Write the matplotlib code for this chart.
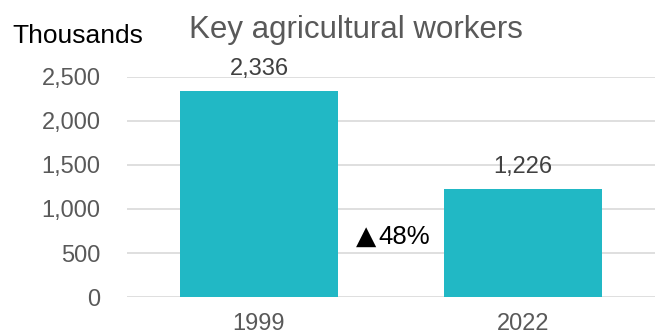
import matplotlib
matplotlib.use("Agg")
import matplotlib.pyplot as plt

years = ["1999", "2022"]
workers = [2336, 1226]
change_arrow = "▲"
change_pct = "48%"
yticks = [0, 500, 1000, 1500, 2000, 2500]

plt.rcParams["font.family"] = ["Liberation Sans", "DejaVu Sans"]

fig = plt.figure(figsize=(6.55, 3.35), dpi=100)
ax = fig.add_axes([127 / 655, 38 / 335, 528 / 655, 220 / 335])

x = range(len(years))
ax.bar(x, workers, width=0.6, color="#21B8C5", zorder=2)
ax.set_xlim(-0.5, 1.5)
ax.set_ylim(0, 2500)

ax.set_yticks(yticks)
ax.set_yticklabels([f"{v:,}" for v in yticks])
ax.set_xticks(list(x))
ax.set_xticklabels(years)
ax.tick_params(axis="y", length=0, pad=19, labelsize=17, labelcolor="#595959")
ax.tick_params(axis="x", length=0, pad=11.5, labelsize=17, labelcolor="#595959")

ax.grid(axis="y", color="#D9D9D9", linewidth=1.2, zorder=0)
for s in ax.spines.values():
    s.set_visible(False)

for xi, v in zip(x, workers):
    ax.text(xi, v + 185, f"{v:,}", ha="center", va="baseline", fontsize=17,
            color="#404040", clip_on=False)

# change marker between the two bars: arrow glyph then percentage
ax.text(0.445, 600, change_arrow, ha="right", va="baseline", fontsize=19,
        color="#000000", family=["DejaVu Sans"])
ax.text(0.451, 600, change_pct, ha="left", va="baseline", fontsize=18.5,
        color="#000000")

fig.text(355.5 / 655, 1 - 38 / 335, "Key agricultural workers", ha="center",
         va="baseline", fontsize=22.5, color="#595959")
fig.text(12.5 / 655, 1 - 43 / 335, "Thousands", ha="left", va="baseline",
         fontsize=19, color="#000000")

fig.savefig("out.png", dpi=100)
